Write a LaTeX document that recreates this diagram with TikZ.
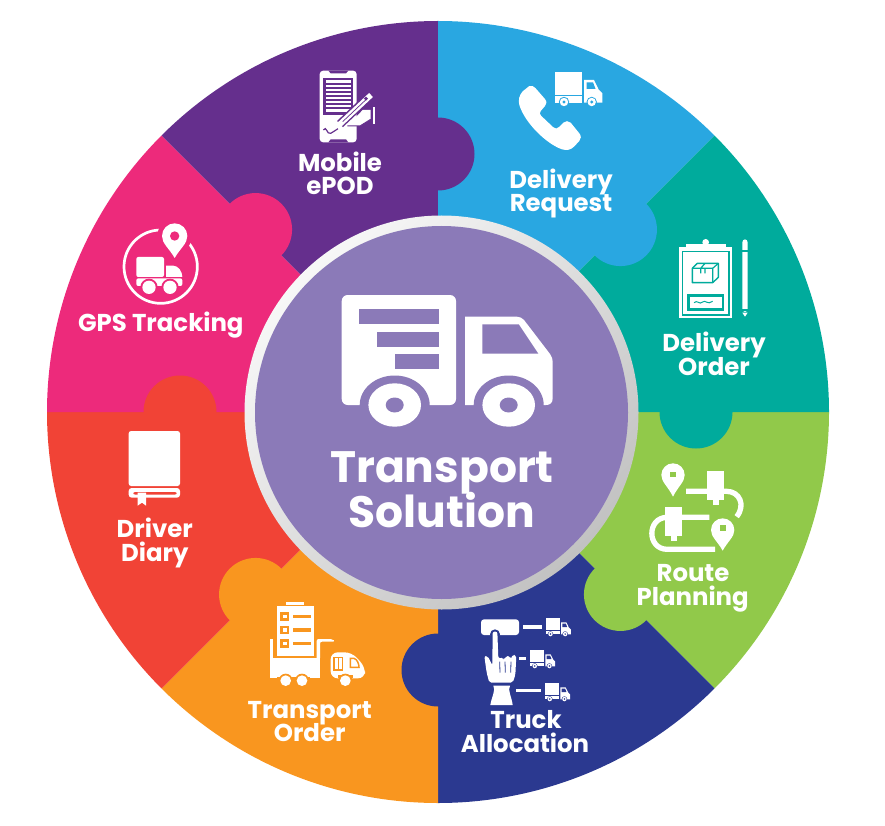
\documentclass[tikz,border=0pt]{standalone}
\usepackage{fontspec}
\setmainfont{Poppins}
\definecolor{tealc}{HTML}{00AB9C}
\definecolor{greenc}{HTML}{91C94A}
\definecolor{navyc}{HTML}{2B3990}
\definecolor{orangec}{HTML}{F9961F}
\definecolor{redc}{HTML}{F14336}
\definecolor{pinkc}{HTML}{ED2A7B}
\definecolor{purplec}{HTML}{652F8D}
\definecolor{bluec}{HTML}{29A7E1}
\definecolor{hubc}{HTML}{8B7AB8}
\tikzset{
	lbl/.style={text=white,anchor=base,inner sep=0pt,yshift=-1pt,font=\fontsize{24.4}{26}\selectfont\bfseries},
	hublbl/.style={text=white,anchor=base,inner sep=0pt,yshift=-1pt,font=\fontsize{44}{48}\selectfont\bfseries},
	crop/.style 2 args={shift={(#1,#2)},scale=0.33333}
}
\def\minitruck(#1,#2)#3#4{
	\begin{scope}[shift={(#1,#2)},scale=#3]
		\fill[white] (0,0) rectangle (27.3,22.7);
		\fill[white] (0,23.7) rectangle (27.3,30.3);
		\fill[white] (29,7.7) -- (39,7.7) -- (43.5,17) -- (47.3,21) -- (47.3,30.3) -- (29,30.3) -- cycle;
		\fill[#4] (31.5,10) -- (38,10) -- (40.5,16.5) -- (31.5,16.5) -- cycle;
		\fill[#4] (9,29.7) circle (5.2);
		\fill[#4] (36.7,29.7) circle (5.2);
		\fill[white] (9,29.7) circle (4.2);
		\fill[white] (36.7,29.7) circle (4.2);
		\fill[#4] (9,29.7) circle (1.6);
		\fill[#4] (36.7,29.7) circle (1.6);
	\end{scope}
}
\def\pinpath(#1,#2)#3#4{
	(#1,{#2+#4}) .. controls ({#1-0.45*#3},{#2+0.95*#3}) and ({#1-#3},{#2+0.6*#3}) .. ({#1-#3},#2)
	arc (180:360:#3) .. controls ({#1+#3},{#2+0.6*#3}) and ({#1+0.45*#3},{#2+0.95*#3}) .. (#1,{#2+#4}) -- cycle
}
\begin{document}
\begin{tikzpicture}[x=1pt,y=-1pt]
	\useasboundingbox (0,0) rectangle (885,826);

	% puzzle ring
	\begin{scope}[shift={(438,412)}]
		\foreach \col [count=\i from 0] in {greenc,navyc,orangec,redc,pinkc,purplec,bluec,tealc}{
			\pgfmathsetmacro{\a}{45*\i}
			\pgfmathsetmacro{\b}{45*\i+45}
			\fill[\col] (0,0) -- (\a:391) arc (\a:\b:391) -- cycle;
		}
		\foreach \col [count=\i from 1] in {greenc,navyc,orangec,redc,pinkc,purplec,bluec,tealc}{
			\pgfmathsetmacro{\a}{45*\i}
			\fill[\col] (\a:258) circle (36.5);
		}
	\end{scope}

	% hub
	\shade[top color=white!97!black,bottom color=black!24,shading angle=45] (441.5,412.5) circle (197);
	\fill[hubc] (441.5,412.5) circle (186.5);

	\fill[white,rounded corners=6pt] (341.7,295) rectangle (456,405);
	\fill[hubc] (359.3,309.3) rectangle (438.7,324.3);
	\fill[hubc] (377,331.7) rectangle (438.7,346.7);
	\fill[hubc] (394.7,353.7) rectangle (438.7,368.7);
	\fill[white] (465,405) -- (465,316.7) -- (517,316.7) .. controls (520,316.7) and (522,318) .. (524,320) -- (550,354) .. controls (552,357) and (552.7,359) .. (552.7,362) -- (552.7,398) .. controls (552.7,403) and (550,405) .. (546,405) -- cycle;
	\fill[hubc] (482.3,324.3) -- (518.7,324.3) -- (538.3,353.7) -- (482.3,353.7) -- cycle;
	\fill[hubc] (394.7,405) ellipse (35 and 29.5);
	\fill[hubc] (508.7,405) ellipse (35 and 29.5);
	\fill[white] (394.7,405) ellipse (26.3 and 21.7);
	\fill[white] (508.7,405) ellipse (26.3 and 21.7);
	\fill[hubc] (394.7,405) ellipse (9 and 7.5);
	\fill[hubc] (508.7,405) ellipse (9 and 7.5);

	\node[hublbl] (hubA) at (442,481.7) {Transport};
	\node[hublbl] (hubB) at (442,526) {Solution};

	% delivery request
	\minitruck(555,72.3){1}{bluec}
	\begin{scope}[crop={440}{30}]
		\fill[white] (268,168) .. controls (275,165) and (282,170) .. (286,174) -- (314,206) .. controls (321,214) and (321,222) .. (315,228) -- (303,242) .. controls (298,248) and (298,252) .. (303,257) -- (340,292) .. controls (346,297) and (352,297) .. (357,291) -- (370,278) .. controls (376,272) and (386,272) .. (392,278) -- (418,310) .. controls (424,318) and (424,326) .. (418,333) -- (402,350) .. controls (392,360) and (380,362) .. (366,358) .. controls (320,342) and (255,280) .. (238,225) .. controls (234,210) and (238,195) .. (248,184) -- cycle;
	\end{scope}
	\node[lbl] (reqA) at (561,187.7) {Delivery};
	\node[lbl] (reqB) at (561,211) {Request};

	% delivery order
	\begin{scope}[crop={580}{200}]
		\fill[white] (298,140) rectangle (456,355);
		\fill[tealc] (305,152) rectangle (449,347);
		\fill[white] (310,155) rectangle (444,343);
		\fill[white] (318,132) rectangle (437,148);
		\fill[white] (377,127) circle (10);
		\draw[tealc,line width=1.4pt,line join=round] (337,205) -- (352,190) -- (415,190) -- (415,232) -- (398,248) -- (337,248) -- cycle;
		\draw[tealc,line width=1.2pt] (337,205) -- (398,205) -- (398,248) (398,205) -- (415,190) (375,190) -- (362,205) -- (362,220) (375,205) -- (375,220);
		\fill[tealc] (322,283) rectangle (433,332);
		\fill[white] (329,291) rectangle (426,324);
		\draw[tealc,line width=1pt] (342,308) .. controls (352,298) and (358,316) .. (368,306) .. controls (376,298) and (382,316) .. (398,304);
		\fill[white,rounded corners=3pt] (487,118) rectangle (503,336);
		\fill[tealc] (485,150) rectangle (505,155);
		\fill[tealc] (485,328) rectangle (505,333);
		\fill[white] (487,338) -- (503,338) -- (495,350) -- cycle;
	\end{scope}
	\node[lbl] (ordA) at (714,350) {Delivery};
	\node[lbl] (ordB) at (714,374.3) {Order};

	% route planning
	\begin{scope}[crop={580}{420}]
		\fill[white] \pinpath(279,165){35}{65};
		\fill[greenc] (271,155) rectangle (288,172);
		\fill[white] \pinpath(428,330){35}{62};
		\fill[greenc] (420,315) rectangle (437,332);
		\draw[white,line width=5.3pt] (318,214) -- (440,214) .. controls (478,214) and (498,255) .. (470,290);
		\fill[white] (381,153) rectangle (433,240);
		\fill[white] (398,240) rectangle (416,255);
		\draw[white,line width=5.3pt] (388,292) -- (262,292) .. controls (200,292) and (200,388) .. (262,388) -- (405,388);
		\fill[white] (255,262) rectangle (307,348);
		\fill[white] (272,348) rectangle (290,362);
	\end{scope}
	\node[lbl] (rteA) at (693,580.7) {Route};
	\node[lbl] (rteB) at (692.7,604.3) {Planning};

	% truck allocation
	\minitruck(545.7,618.3){0.53}{navyc}
	\minitruck(530,650.3){0.53}{navyc}
	\minitruck(545,683.3){0.53}{navyc}
	\begin{scope}[crop={400}{590}]
		\fill[white,rounded corners=3pt] (243,88) rectangle (357,135);
		\fill[navyc] (285,133) circle (15);
		\fill[white] (368,105) rectangle (425,117);
		\fill[white] (358,202) rectangle (377,211);
		\fill[white] (347,297) rectangle (424,305);
		\fill[white,rounded corners=2pt] (253,198) -- (263,198) -- (277,226) -- (278,125) -- (292,125) -- (295,205) -- (311,203) -- (313,210) -- (317,198) -- (330,198) -- (333,208) -- (338,193) -- (349,196) -- (346,255) -- (338,278) -- (268,278) -- (260,248) -- cycle;
		\draw[navyc,line width=0.8pt] (299,215) -- (300,248) (315,215) -- (316,248) (333,215) -- (332,248);
		\fill[white] (280,287) .. controls (288,300) and (275,320) .. (271,345) -- (338,345) .. controls (335,320) and (322,300) .. (330,287) -- cycle;
	\end{scope}
	\node[lbl] (trkA) at (526,727.3) {Truck};
	\node[lbl] (trkB) at (525,751.7) {Allocation};

	% transport order
	\begin{scope}[crop={210}{550}]
		\fill[white] (200,167) rectangle (311,318);
		\fill[white] (228,155) rectangle (283,165);
		\foreach \y in {200,240,280}{
			\fill[orangec] (210,{\y-13}) rectangle (238,{\y+13});
			\fill[white] (220,{\y-5}) rectangle (230,{\y+5});
			\fill[orangec] (250,{\y-5}) rectangle (302,{\y+5});
		}
		\fill[white] (180,267) rectangle (190,330);
		\fill[white,rounded corners=2pt] (320,267) -- (368,267) -- (375,275) -- (330,275) -- (330,330) -- (320,330) -- cycle;
		\fill[white] (180,325) rectangle (330,385);
		\fill[orangec] (200,380) rectangle (300,392);
		\fill[orangec] (227,392) circle (21);
		\fill[orangec] (276,392) circle (21);
		\fill[white] (227,392) circle (16);
		\fill[white] (276,392) circle (16);
		\fill[white,rounded corners=7pt] (362,385) -- (362,307) -- (425,307) -- (465,350) -- (465,385) -- cycle;
		\fill[orangec] (383,374) rectangle (430,385);
		\fill[orangec] (406,392) circle (21);
		\fill[white] (406,392) circle (16);
		\draw[orangec,line width=1.5pt] (372,323) rectangle (397,360);
		\draw[orangec,line width=1.5pt] (421,325) -- (432,325) .. controls (442,328) and (447,342) .. (447,352) -- (421,352) -- cycle;
		\draw[orangec,line width=1.5pt] (385,323) -- (385,360);
	\end{scope}
	\node[lbl] (toA) at (309.7,717.7) {Transport};
	\node[lbl] (toB) at (309.7,740.7) {Order};

	% driver diary
	\begin{scope}[crop={60}{370}]
		\fill[white,rounded corners=2.5pt] (206,183) rectangle (360,348);
		\fill[white,rounded corners=3pt] (206,354) rectangle (360,383);
		\fill[redc,rounded corners=2pt] (220,366) rectangle (350,374);
		\fill[white] (233,368) -- (258,368) -- (258,407) -- (246,398) -- (233,407) -- cycle;
	\end{scope}
	\node[lbl] (dryA) at (154.8,536.7) {Driver};
	\node[lbl] (dryB) at (154.8,560) {Diary};

	% gps tracking
	\begin{scope}[crop={60}{180}]
		\draw[white,line width=2.7pt] (302,260) circle (110);
		\fill[pinkc] \pinpath(344,168){52}{84};
		\fill[white] \pinpath(344,168){38}{66};
		\fill[pinkc] (344,168) circle (14);
		\fill[white,rounded corners=2pt] (229,291) -- (229,231) -- (312,231) -- (312,291) -- cycle;
		\fill[white] (318,291) -- (318,257) -- (340,257) .. controls (355,257) and (367,275) .. (367,291) -- cycle;
		\fill[white,rounded corners=2pt] (229,295) rectangle (367,318);
		\fill[pinkc] (267,322) circle (26);
		\fill[pinkc] (330,322) circle (26);
		\fill[white] (267,322) circle (20);
		\fill[white] (330,322) circle (20);
	\end{scope}
	\node[lbl] (gpsA) at (160.8,330) {GPS Tracking};

	% mobile epod
	\begin{scope}[crop={260}{50}]
		\fill[white,rounded corners=3.5pt] (179,62) rectangle (290,277);
		\fill[purplec] (205,62) -- (265,62) -- (258,70) -- (212,70) -- cycle;
		\fill[purplec] (212,268) -- (258,268) -- (265,277) -- (205,277) -- cycle;
		\fill[purplec] (190,83) rectangle (280,195);
		\fill[white] (198,91) rectangle (272,186);
		\foreach \y in {102,114,126,138,150,162,174}{
			\fill[purplec] (198,{\y-2}) rectangle (272,{\y+2});
		}
		\draw[purplec,line width=1.2pt] (190,240) .. controls (200,225) and (200,255) .. (212,250) .. controls (222,246) and (225,240) .. (234,236);
		\fill[white] (262,228) -- (300,228) -- (332,208) -- (332,180) -- (308,180) -- cycle;
		\draw[purplec,line width=1pt] (262,228) -- (300,228) -- (332,208);
		\draw[purplec,line width=8.5pt] (338,130) -- (240,222);
		\draw[white,line width=5.5pt] (333,135) -- (236,226);
		\draw[purplec,line width=0.7pt] (320,147) -- (248,215);
		\fill[purplec] (318,140) -- (324,146) -- (318,152) -- (312,146) -- cycle;
		\fill[white] (338,170) rectangle (344,221);
	\end{scope}
	\node[lbl] (podA) at (340,170.7) {Mobile};
	\node[lbl] (podB) at (340,194) {ePOD};
\end{tikzpicture}
\end{document}
